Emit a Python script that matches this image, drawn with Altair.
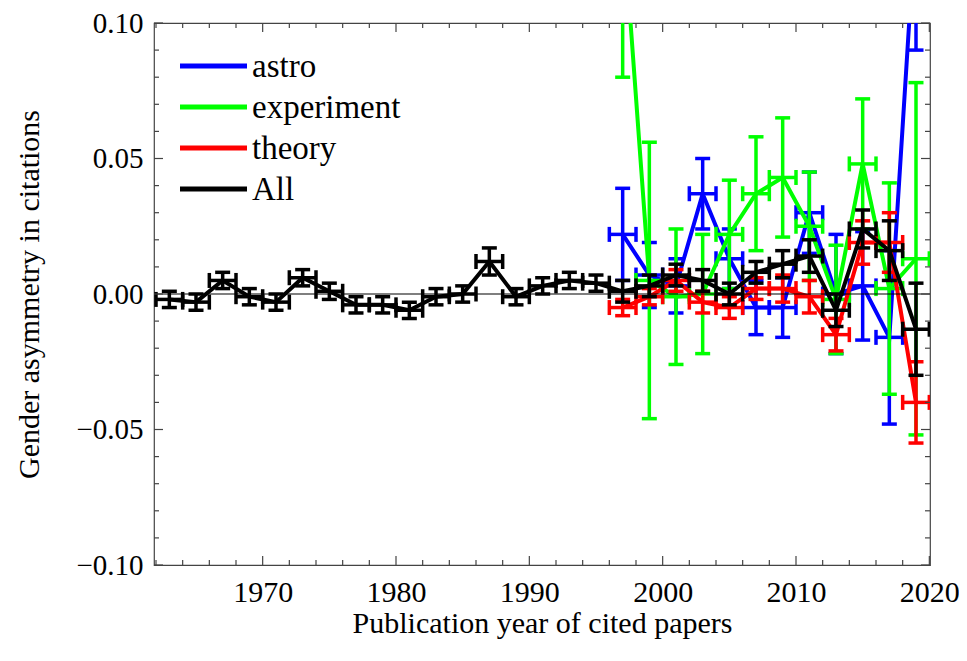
import altair as alt
import pandas as pd

# ---------------- data ----------------
years_all = list(range(1963, 2020, 2))
all_val = [-0.002, -0.003, 0.005, -0.001, -0.003, 0.006, 0.001, -0.004, -0.004, -0.006,
           -0.001, 0.000, 0.012, -0.001, 0.003, 0.005, 0.004, 0.001, 0.003, 0.007,
           0.005, 0.000, 0.008, 0.011, 0.014, -0.006, 0.024, 0.016, -0.013]
all_err = [0.003, 0.003, 0.003, 0.003, 0.003, 0.003, 0.003, 0.003, 0.003, 0.003,
           0.003, 0.003, 0.005, 0.003, 0.003, 0.003, 0.003, 0.004, 0.004, 0.004,
           0.004, 0.004, 0.004, 0.005, 0.006, 0.006, 0.007, 0.011, 0.017]

years_sub = list(range(1997, 2020, 2))
astro_val = [0.022, 0.007, 0.003, 0.037, 0.013, -0.005, -0.005, 0.030, 0.000, 0.003, -0.016, 0.140]
astro_err = [0.017, 0.012, 0.010, 0.013, 0.011, 0.010, 0.011, 0.015, 0.022, 0.020, 0.032, 0.050]
exper_val = [0.140, 0.005, -0.001, 0.000, 0.022, 0.037, 0.043, 0.025, -0.002, 0.048, 0.002, 0.013]
exper_err = [0.060, 0.051, 0.025, 0.022, 0.020, 0.021, 0.022, 0.020, 0.020, 0.024, 0.039, 0.065]
theory_val = [-0.005, -0.001, 0.005, -0.003, -0.005, 0.002, 0.002, -0.001, -0.015, 0.019, 0.019, -0.040]
theory_err = [0.003, 0.003, 0.004, 0.004, 0.004, 0.004, 0.005, 0.006, 0.006, 0.008, 0.011, 0.015]
year_halfwidth = 1

series_names = ["astro", "experiment", "theory", "All"]
series_colors = ["#0000ff", "#00ff00", "#ff0000", "#000000"]

x_major = [1970, 1980, 1990, 2000, 2010, 2020]
x_minor = [y for y in range(1962, 2020, 2) if y % 10 != 0]
y_major = [-0.10, -0.05, 0.00, 0.05, 0.10]
y_minor = [round(-0.10 + 0.01 * i, 2) for i in range(21) if i % 5 != 0]

# ---------------- helpers ----------------
FONT = "'Liberation Serif', 'Times New Roman', serif"
W, H = 776, 542
xs = alt.Scale(domain=[1961.85, 2020.05], nice=False, zero=False)
ys = alt.Scale(domain=[-0.1, 0.1], nice=False, zero=False)


def frame(name, years, vals, errs):
    return pd.DataFrame({
        "series": name,
        "year": years,
        "val": vals,
        "lo": [v - e for v, e in zip(vals, errs)],
        "hi": [v + e for v, e in zip(vals, errs)],
        "xlo": [y - year_halfwidth for y in years],
        "xhi": [y + year_halfwidth for y in years],
    })


frames = {
    "astro": frame("astro", years_sub, astro_val, astro_err),
    "experiment": frame("experiment", years_sub, exper_val, exper_err),
    "theory": frame("theory", years_sub, theory_val, theory_err),
    "All": frame("All", years_all, all_val, all_err),
}

XA = alt.Axis(values=x_major, format="d", ticks=False, domain=False, grid=False,
              labelFont=FONT, labelFontSize=30, labelColor="black", labelPadding=12,
              labelFlush=False, labelOverlap=False,
              title="Publication year of cited papers", titleFont=FONT,
              titleFontSize=30, titleFontWeight="normal", titleColor="black",
              titlePadding=1)
YA = alt.Axis(values=y_major, format=".2f", ticks=False, domain=False, grid=False,
              labelFont=FONT, labelFontSize=29, labelColor="black", labelPadding=11,
              labelFlush=False, labelOverlap=False,
              title="Gender asymmetry in citations", titleFont=FONT,
              titleFontSize=30, titleFontWeight="normal", titleColor="black",
              titlePadding=31)


def X(f):
    return alt.X(f, scale=xs, axis=XA)


def Y(f):
    return alt.Y(f, scale=ys, axis=YA)


layers = []
for i, (name, col) in enumerate(zip(series_names, series_colors)):
    df = frames[name]
    base = alt.Chart(df)
    line = base.mark_line(color=col, strokeWidth=4, clip=True).encode(
        x=X("year:Q"), y=Y("val:Q"))
    yerr = base.mark_rule(color=col, strokeWidth=3.5, clip=True).encode(
        x=X("year:Q"), y=Y("lo:Q"), y2="hi:Q")
    xerr = base.mark_rule(color=col, strokeWidth=3.5, clip=True).encode(
        x=X("xlo:Q"), x2="xhi:Q", y=Y("val:Q"))
    ycap_lo = base.mark_tick(color=col, orient="horizontal", size=15, thickness=3.5,
                             clip=True, opacity=1).encode(x=X("year:Q"), y=Y("lo:Q"))
    ycap_hi = base.mark_tick(color=col, orient="horizontal", size=15, thickness=3.5,
                             clip=True, opacity=1).encode(x=X("year:Q"), y=Y("hi:Q"))
    xcap_lo = base.mark_tick(color=col, orient="vertical", size=15, thickness=3.5,
                             clip=True, opacity=1).encode(x=X("xlo:Q"), y=Y("val:Q"))
    xcap_hi = base.mark_tick(color=col, orient="vertical", size=15, thickness=3.5,
                             clip=True, opacity=1).encode(x=X("xhi:Q"), y=Y("val:Q"))
    layers += [line, yerr, xerr, ycap_lo, ycap_hi, xcap_lo, xcap_hi]

# zero line
zero = alt.Chart(pd.DataFrame({"z": [0.0]})).mark_rule(color="black", strokeWidth=1.2).encode(
    y=Y("z:Q"))
layers.append(zero)

# frame ticks (inward)
tick_col = "#444"
xmaj = alt.Chart(pd.DataFrame({"t": x_major}))
xmin = alt.Chart(pd.DataFrame({"t": x_minor}))
ymaj = alt.Chart(pd.DataFrame({"t": y_major}))
ymin = alt.Chart(pd.DataFrame({"t": y_minor}))
for src, ln in [(xmaj, 9), (xmin, 5)]:
    layers.append(src.mark_rule(color=tick_col, strokeWidth=1.2).encode(
        x=X("t:Q"), y=alt.value(H), y2=alt.value(H - ln)))
    layers.append(src.mark_rule(color=tick_col, strokeWidth=1.2).encode(
        x=X("t:Q"), y=alt.value(0), y2=alt.value(ln)))
for src, ln in [(ymaj, 9), (ymin, 5)]:
    layers.append(src.mark_rule(color=tick_col, strokeWidth=1.2).encode(
        y=Y("t:Q"), x=alt.value(0), x2=alt.value(ln)))
    layers.append(src.mark_rule(color=tick_col, strokeWidth=1.2).encode(
        y=Y("t:Q"), x=alt.value(W), x2=alt.value(W - ln)))

# manual legend (inside the plot, top-left)
one = alt.Data(values=[{"k": 0}])
for i, (name, col) in enumerate(zip(series_names, series_colors)):
    ly = 43 + i * 41
    layers.append(alt.Chart(one).mark_rule(color=col, strokeWidth=5).encode(
        x=alt.value(26), x2=alt.value(93), y=alt.value(ly)))
    layers.append(alt.Chart(one).mark_text(text=name, font=FONT, fontSize=33, color="black",
                                           align="left", baseline="middle").encode(
        x=alt.value(98), y=alt.value(ly + 1)))

chart = alt.layer(*layers).properties(
    width=W, height=H,
    autosize=alt.AutoSizeParams(type="none"),
    padding={"left": 146, "top": 15, "right": 29, "bottom": 88},
    background="white",
).configure_view(stroke="#444", strokeWidth=1.2)

chart.save("out.html", embed_options={"renderer": "svg", "actions": False})
